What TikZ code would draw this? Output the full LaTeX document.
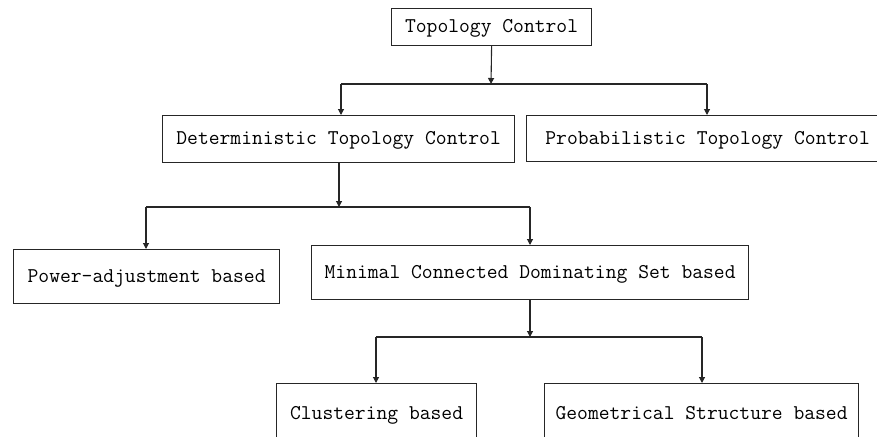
\documentclass[tikz,border=0pt]{standalone}
\usepackage{fontspec}
\usetikzlibrary{arrows.meta}
\begin{document}
\begin{tikzpicture}[x=1pt,y=-1pt,
  box/.style={draw=black!85, line width=1.2pt, inner sep=0pt, anchor=north west,
    font=\ttfamily\fontsize{21}{21}\selectfont},
  conn/.style={line width=1.1pt, draw=black!85},
  arr/.style={conn, -{Triangle[length=6pt,width=6pt]}}]
\clip (0,0) rectangle (877,436);
\useasboundingbox (0,0) rectangle (877,436);
% boxes
\node[box, minimum width=200pt, text height=24pt, text depth=13pt] (top) at (391,8) {Topology Control};
\node[box, minimum width=352pt, text height=29pt, text depth=18pt] (det) at (162,115) {Deterministic Topology Control};
\node[box, minimum width=362pt, text height=29pt, text depth=17pt] (prob) at (526,115) {Probabilistic Topology Control};
\node[box, minimum width=266pt, text height=33pt, text depth=21pt] (pow) at (13,249) {Power-adjustment based};
\node[box, minimum width=437pt, text height=33pt, text depth=21pt] (mcds) at (311,245) {Minimal Connected Dominating Set based};
\node[box, minimum width=200pt, text height=36pt, text depth=41pt] (clu) at (276,383) {Clustering based};
\node[box, minimum width=314pt, text height=36pt, text depth=41pt] (geo) at (544,383) {Geometrical Structure based};
% junction coordinates
\coordinate (j1) at (491,84);
\coordinate (l1) at (341,84);
\coordinate (r1) at (707,84);
\coordinate (j2) at (339,207);
\coordinate (l2) at (146,207);
\coordinate (r2) at (530,207);
\coordinate (j3) at (530,337);
\coordinate (l3) at (376,337);
\coordinate (r3) at (702,337);
% connectors
\draw[arr] (top.south) -- (j1);
\draw[conn] (l1) -- (r1);
\draw[arr] (l1) -- (det.north -| l1);
\draw[arr] (r1) -- (prob.north -| r1);
\draw[arr] (det.south -| j2) -- (j2);
\draw[conn] (l2) -- (r2);
\draw[arr] (l2) -- (pow.north -| l2);
\draw[arr] (r2) -- (mcds.north -| r2);
\draw[arr] (mcds.south -| j3) -- (j3);
\draw[conn] (l3) -- (r3);
\draw[arr] (l3) -- (clu.north -| l3);
\draw[arr] (r3) -- (geo.north -| r3);
\end{tikzpicture}
\end{document}
